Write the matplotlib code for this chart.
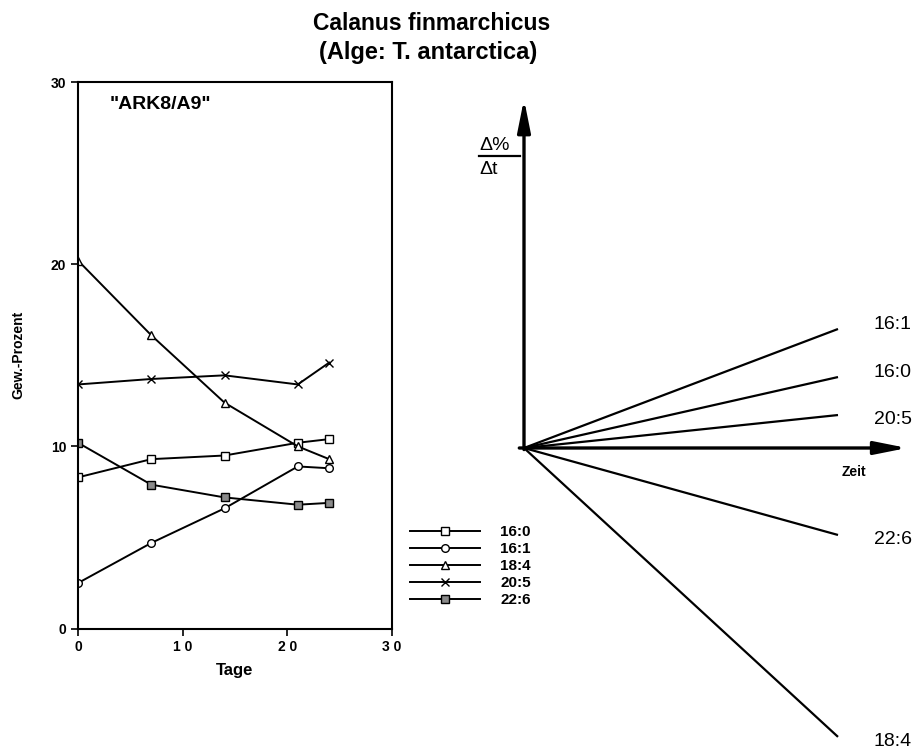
import matplotlib
matplotlib.use("Agg")
import matplotlib.pyplot as plt

plt.rcParams['font.family'] = ['Liberation Sans', 'DejaVu Sans']

# Messtage und Gewichtsprozente der Fettsaeuren
tage = [0, 7, 14, 21, 24]
fa_labels = ["16:0", "16:1", "18:4", "20:5", "22:6"]
fa_16_0 = [8.3, 9.3, 9.5, 10.2, 10.4]
fa_16_1 = [2.5, 4.7, 6.6, 8.9, 8.8]
fa_18_4 = [20.2, 16.1, 12.4, 10.0, 9.3]
fa_20_5 = [13.4, 13.7, 13.9, 13.4, 14.6]
fa_22_6 = [10.2, 7.9, 7.2, 6.8, 6.9]

# Steigungen im Schema rechts (relative Einheiten)
rate_labels = ["16:1", "16:0", "20:5", "22:6", "18:4"]
rates = [0.379, 0.226, 0.105, -0.277, -0.92]

fig = plt.figure(figsize=(9.22, 7.54), dpi=100)

# ---- linkes Diagramm ----
ax = fig.add_axes([78/922, 1 - 628.6/754, 314/922, 546.6/754])
series = [fa_16_0, fa_16_1, fa_18_4, fa_20_5, fa_22_6]
markers = ['s', 'o', '^', 'x', 's']
faces = ['white', 'white', 'white', 'black', '#8a8a8a']
for vals, lab, m, fc in zip(series, fa_labels, markers, faces):
    ax.plot(tage, vals, color='black', lw=1.4, marker=m, ms=5.5,
            mfc=fc, mec='black', mew=1.0, label=lab)

ax.set_xlim(0, 30)
ax.set_ylim(0, 30)
ax.set_xticks([0, 10, 20, 30])
ax.set_xticklabels(["0", "1 0", "2 0", "3 0"])
ax.set_yticks([0, 10, 20, 30])
ax.tick_params(direction='out', length=5, width=1.2, labelsize=10)
for t in ax.get_xticklabels() + ax.get_yticklabels():
    t.set_fontweight('bold')
for s in ax.spines.values():
    s.set_linewidth(1.5)
ax.set_xlabel("Tage", fontsize=12, fontweight='bold', labelpad=6)
ax.set_ylabel("Gew.-Prozent", fontsize=10, fontweight='bold', labelpad=18)
ax.text(0.10, 0.975, '"ARK8/A9"', transform=ax.transAxes, fontsize=14,
        fontweight='bold', va='top', ha='left')

fig.legend(loc='upper left', bbox_to_anchor=(410/922, 1 - 525/754),
           frameon=False, handlelength=4.6, handletextpad=1.3,
           labelspacing=0.2, borderpad=0, borderaxespad=0, numpoints=1,
           prop={'weight': 'bold', 'size': 11})

# ---- Titel ----
fig.text(432/922, 1 - 24/754, "Calanus finmarchicus", ha='center', va='center',
         fontsize=16.5, fontweight='bold')
fig.text(428/922, 1 - 53/754, "(Alge: T. antarctica)", ha='center', va='center',
         fontsize=17, fontweight='bold')

# ---- rechtes Schema ----
ax2 = fig.add_axes([470/922, 0, 452/922, 1])
ax2.set_xlim(-54/314, 398/314)
ax2.set_ylim(-306/314, 448/314)
ax2.axis('off')

arrow = dict(arrowstyle='-|>,head_length=0.65,head_width=0.13', lw=2.4,
             color='black', mutation_scale=30, shrinkA=0, shrinkB=0)
ax2.annotate('', xy=(0, 1.111), xytext=(0, -0.005), arrowprops=arrow)
ax2.annotate('', xy=(1.22, 0), xytext=(-0.015, 0), arrowprops=arrow)

for lab, r in zip(rate_labels, rates):
    ax2.plot([0, 1], [0, r], color='black', lw=1.6, solid_capstyle='butt')
    off = 0.014 if r > 0.2 else -0.015
    ax2.text(1.175, r + off, lab, ha='center', va='center', fontsize=14)

ax2.text(1.05, -0.076, "Zeit", ha='center', va='center', fontsize=10,
         fontweight='bold')
ax2.text(-0.141, 0.962, "Δ%", ha='left', va='center', fontsize=14)
ax2.plot([-0.142, -0.012], [0.93, 0.93], color='black', lw=1.6)
ax2.text(-0.141, 0.887, "Δt", ha='left', va='center', fontsize=14)

fig.savefig("out.png", dpi=100)
